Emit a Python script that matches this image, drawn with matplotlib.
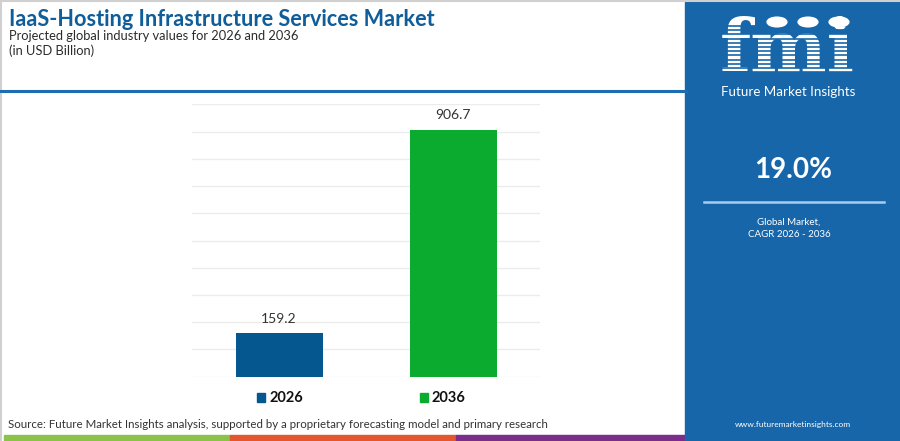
import matplotlib
matplotlib.use("Agg")
import matplotlib.pyplot as plt
from matplotlib.patches import Rectangle, Circle
import numpy as np

# ---- data ----
years = ["2026", "2036"]
values = [159.2, 906.7]
bar_colors = ["#05588f", "#0aab2f"]
yticks = list(range(0, 1001, 100))
title = "IaaS-Hosting Infrastructure Services Market"
subtitle = "Projected global industry values for 2026 and 2036"
unit = "(in USD Billion)"
cagr = "19.0%"
source = "Source: Future Market Insights analysis, supported by a proprietary forecasting model and primary research"

W, H = 900, 441
fig = plt.figure(figsize=(W / 100, H / 100), dpi=100)
fig.patch.set_facecolor("white")
FONT = "Lato"

def fx(x):
    return x / W

def fy(y):
    return 1 - y / H

# border
fig.add_artist(plt.Line2D([0, 1], [fy(0.8), fy(0.8)], color="#d0d0d0", lw=1.5, transform=fig.transFigure))
fig.add_artist(plt.Line2D([fx(0.8), fx(0.8)], [0, 1], color="#d0d0d0", lw=1.5, transform=fig.transFigure))

# blue header line
fig.add_artist(plt.Line2D([0, fx(686)], [fy(91), fy(91)], color="#1f6db1", lw=2.2, transform=fig.transFigure))

# titles
fig.text(fx(9), fy(19.5), title, fontsize=15.6, fontweight="bold", color="#0f5d99",
         family=FONT, va="center", ha="left")
fig.text(fx(9), fy(36), subtitle, fontsize=9.3, color="#2b2b2b", family=FONT, va="center", ha="left")
fig.text(fx(9), fy(51), unit, fontsize=9.3, color="#2b2b2b", family=FONT, va="center", ha="left")

# chart axes
ax = fig.add_axes([fx(192), fy(376.7), fx(540) - fx(192), fy(104.3) - fy(376.7)])
x = np.arange(len(years))
bars = ax.bar(x, values, width=0.5, color=bar_colors, zorder=3)
ax.set_xlim(-0.5, 1.5)
ax.set_ylim(0, 1000)
ax.set_yticks(yticks)
ax.yaxis.grid(True, color="#ececec", lw=1)
ax.set_axisbelow(True)
for s in ax.spines.values():
    s.set_visible(False)
ax.tick_params(left=False, bottom=False, labelleft=False, labelbottom=False)
for xi, v in zip(x, values):
    ax.annotate(f"{v:.1f}", (xi, v), xytext=(0, 6), textcoords="offset points",
                ha="center", va="bottom", fontsize=10, color="#333333", family=FONT)

# legend
leg_items = [(257, years[0], bar_colors[0]), (420, years[1], bar_colors[1])]
for lx, lab, col in leg_items:
    fig.add_artist(Rectangle((fx(lx), fy(402)), fx(8), fy(393) - fy(402), color=col, transform=fig.transFigure))
    fig.text(fx(lx + 12), fy(397.5), lab, fontsize=10.5, fontweight="bold", color="#111111",
             family=FONT, va="center", ha="left")

# source
fig.text(fx(8), fy(425), source, fontsize=8.25, color="#333333", family=FONT, va="center", ha="left")

# bottom stripes
for x0, x1, c in [(4, 230, "#8bc34a"), (230, 456, "#e4572e"), (456, 686, "#7b2d8b")]:
    fig.add_artist(Rectangle((fx(x0), 0), fx(x1) - fx(x0), fy(435) - fy(441), color=c,
                             transform=fig.transFigure))

# right panel
panel_col = "#1766a9"
fig.add_artist(Rectangle((fx(685), 0), fx(900) - fx(685), fy(2), color=panel_col, transform=fig.transFigure, zorder=1))

# faint network pattern
pax = fig.add_axes([fx(690), fy(430), fx(210), fy(245) - fy(430)])
pax.set_xlim(0, 1); pax.set_ylim(0, 1); pax.axis("off")
nodes = [(0.1, 0.95), (0.45, 0.9), (0.3, 0.7), (0.6, 0.72), (0.9, 0.68), (0.05, 0.6),
         (0.2, 0.4), (0.5, 0.45), (0.75, 0.5), (0.95, 0.3), (0.35, 0.15), (0.65, 0.1),
         (0.15, 0.05), (0.85, 0.12)]
edges = [(0, 2), (1, 3), (2, 3), (3, 4), (0, 5), (5, 6), (2, 7), (7, 8), (8, 4), (8, 9),
         (6, 10), (7, 11), (10, 12), (11, 13), (9, 13), (1, 2), (6, 7), (10, 11)]
for a, b in edges:
    pax.plot([nodes[a][0], nodes[b][0]], [nodes[a][1], nodes[b][1]], color="#4a8cc6", lw=0.6, alpha=0.5)
for n in nodes:
    pax.plot(*n, "o", color="#6aa4d6", ms=2, alpha=0.6)

# fmi logo
fig.text(fx(787), fy(52), "fmi", fontsize=52, fontweight="bold", family="DejaVu Serif",
         color="white", ha="center", va="center", zorder=3)
for yy in np.arange(26, 80, 4.2):
    fig.add_artist(plt.Line2D([fx(715), fx(860)], [fy(yy), fy(yy)], color=panel_col, lw=1.2,
                              transform=fig.transFigure, zorder=4))
for cxp in [777, 808, 839]:
    fig.add_artist(Circle((fx(cxp), fy(22)), 0.011, color="white", transform=fig.transFigure, zorder=5))
fig.text(fx(788), fy(92), "Future Market Insights", fontsize=9.6, color="white", family=FONT,
         ha="center", va="center")

fig.text(fx(793), fy(170), cagr, fontsize=20, fontweight="bold", color="white", family=FONT,
         ha="center", va="center")
fig.add_artist(plt.Line2D([fx(704), fx(884)], [fy(202), fy(202)], color="#a7cdee", lw=1.8,
                          transform=fig.transFigure))
fig.text(fx(789), fy(222), "Global Market,", fontsize=7.0, color="white", family=FONT, ha="center", va="center")
fig.text(fx(789), fy(234.5), "CAGR 2026 - 2036", fontsize=7.0, color="white", family=FONT, ha="center", va="center")
fig.text(fx(793), fy(425), "www.futuremarketinsights.com", fontsize=6.0, color="white", family=FONT,
         ha="center", va="center")

fig.savefig("out.png", dpi=100, facecolor="white")
